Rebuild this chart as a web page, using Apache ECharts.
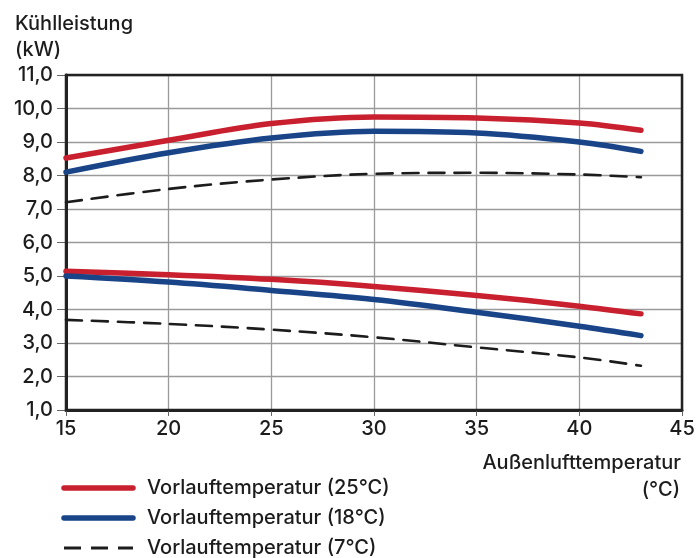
<!DOCTYPE html>
<html>
<head>
<meta charset="utf-8">
<script src="https://cdn.jsdelivr.net/npm/echarts@6/dist/echarts.min.js"></script>
<style>
  html, body { margin: 0; padding: 0; background: #fff; }
  #chart { width: 698px; height: 558px; }
</style>
</head>
<body>
<div id="chart"></div>
<script>
// Outdoor air temperature (°C)
const outdoorTemp = [15, 20, 25, 30, 35, 40, 43];

// Cooling capacity (kW) per flow temperature, upper and lower curve pairs
const max25 = [8.52, 9.05, 9.55, 9.75, 9.72, 9.57, 9.35];
const max18 = [8.10, 8.68, 9.12, 9.32, 9.27, 9.00, 8.72];
const max7  = [7.20, 7.60, 7.88, 8.05, 8.08, 8.03, 7.95];
const min25 = [5.14, 5.04, 4.90, 4.69, 4.42, 4.10, 3.87];
const min18 = [5.00, 4.82, 4.57, 4.30, 3.92, 3.50, 3.22];
const min7  = [3.69, 3.57, 3.40, 3.17, 2.87, 2.57, 2.32];

const legendNames = ['Vorlauftemperatur (25°C)', 'Vorlauftemperatur (18°C)', 'Vorlauftemperatur (7°C)'];

const RED = '#c8202f', BLUE = '#1a4488', DARK = '#1c1c1c';
const FONT = 'Inter, Roboto, "Noto Sans", sans-serif';
const FS = 20;
const FW = 500;

const pairs = (ys) => outdoorTemp.map((x, i) => [x, ys[i]]);

function curve(name, ys, color, width, dashed) {
  return {
    name: name,
    type: 'line',
    data: pairs(ys),
    smooth: 0.35,
    symbol: 'none',
    silent: true,
    lineStyle: { color: color, width: width, type: dashed ? [16, 10] : 'solid', cap: 'round' },
    itemStyle: { color: color },
    z: dashed ? 3 : 4
  };
}

// Legend rows: sample line + label
const legendStyles = [
  { color: RED, width: 5.5, dash: null },
  { color: BLUE, width: 5.5, dash: null },
  { color: DARK, width: 2.8, dash: [17, 10] }
];
const legendGraphics = [];
legendNames.forEach((name, i) => {
  const y = 488 + i * 30;
  const s = legendStyles[i];
  legendGraphics.push({
    type: 'line',
    shape: { x1: 64, y1: y, x2: 133, y2: y },
    style: { stroke: s.color, lineWidth: s.width, lineDash: s.dash, lineCap: s.dash ? 'butt' : 'round' },
    silent: true
  });
  legendGraphics.push({
    type: 'text', x: 147, y: y,
    style: { text: name, font: FW + ' ' + FS + 'px ' + FONT, fill: DARK, textVerticalAlign: 'middle' },
    silent: true
  });
});

const chart = echarts.init(document.getElementById('chart'), null, { renderer: 'canvas' });

chart.setOption({
  animation: false,
  backgroundColor: '#ffffff',
  textStyle: { fontFamily: FONT },
  grid: { left: 66, right: 16, top: 75, bottom: 148 },
  title: {
    text: 'Kühlleistung\n(kW)',
    left: 10, top: 6,
    textStyle: { fontFamily: FONT, fontSize: FS, fontWeight: FW, color: DARK, lineHeight: 26 }
  },
  xAxis: {
    type: 'value',
    min: 15, max: 45, interval: 5,
    axisLine: { show: true, lineStyle: { color: '#222', width: 3 } },
    axisTick: { show: true, length: 6, lineStyle: { color: '#666', width: 1 } },
    axisLabel: { fontFamily: FONT, fontSize: FS, fontWeight: FW, color: DARK, margin: 9 },
    splitLine: { show: true, lineStyle: { color: '#9a9a9a', width: 1.3 } }
  },
  yAxis: {
    type: 'value',
    min: 1, max: 11, interval: 1,
    axisLine: { show: true, lineStyle: { color: '#222', width: 3 } },
    axisTick: { show: true, length: 9, lineStyle: { color: '#666', width: 1 } },
    axisLabel: {
      fontFamily: FONT, fontSize: FS, fontWeight: FW, color: DARK, margin: 13,
      formatter: (v) => v.toFixed(1).replace('.', ',')
    },
    splitLine: { show: true, lineStyle: { color: '#9a9a9a', width: 1.3 } }
  },
  graphic: [
    { type: 'rect', shape: { x: 66, y: 75, width: 616, height: 335 }, style: { fill: 'none', stroke: '#222', lineWidth: 2.5 }, silent: true, z: 2 },
    { type: 'text', x: 681, y: 463, style: { text: 'Außenlufttemperatur', font: FW + ' ' + FS + 'px ' + FONT, fill: DARK, textAlign: 'right', textVerticalAlign: 'middle' } },
    { type: 'text', x: 680, y: 490, style: { text: '(°C)', font: FW + ' ' + FS + 'px ' + FONT, fill: DARK, textAlign: 'right', textVerticalAlign: 'middle' } }
  ].concat(legendGraphics),
  series: [
    curve(legendNames[0], max25, RED, 5.5, false),
    curve(legendNames[1], max18, BLUE, 5.5, false),
    curve(legendNames[2], max7, DARK, 2.6, true),
    curve(legendNames[0], min25, RED, 5.5, false),
    curve(legendNames[1], min18, BLUE, 5.5, false),
    curve(legendNames[2], min7, DARK, 2.6, true)
  ]
});
</script>
</body>
</html>
